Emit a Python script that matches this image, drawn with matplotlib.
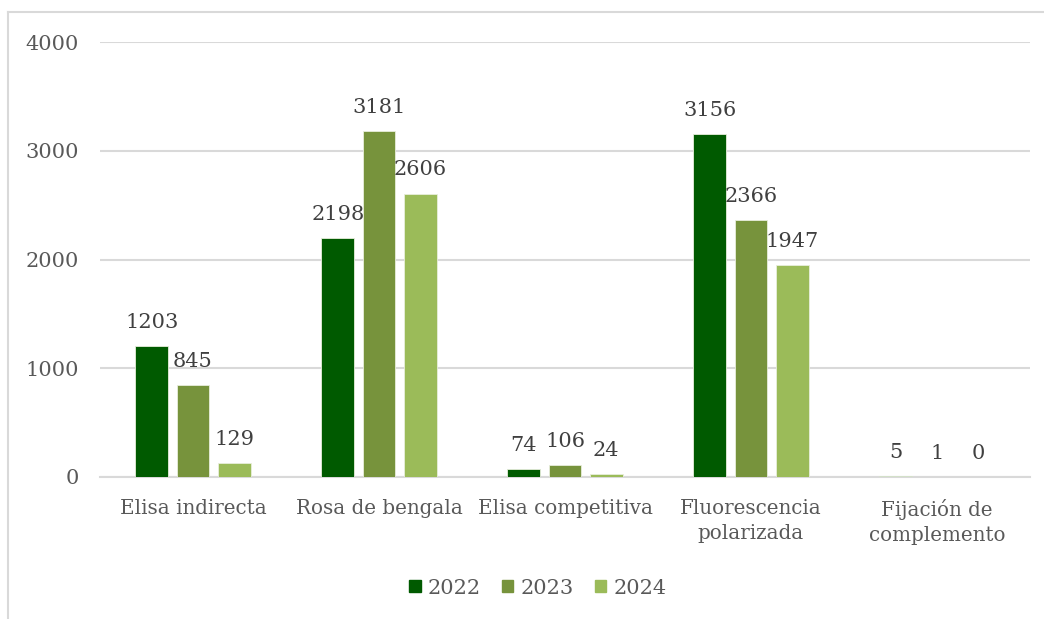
import numpy as np
import matplotlib.pyplot as plt
from matplotlib.patches import Rectangle
from matplotlib.lines import Line2D

categories = ["Elisa indirecta", "Rosa de bengala", "Elisa competitiva",
              "Fluorescencia\npolarizada", "Fijación de\ncomplemento"]
years = ["2022", "2023", "2024"]
v2022 = [1203, 2198, 74, 3156, 5]
v2023 = [845, 3181, 106, 2366, 1]
v2024 = [129, 2606, 24, 1947, 0]
colors = ["#005A00", "#77933C", "#9BBB59"]

plt.rcParams['font.family'] = ['DejaVu Serif']

fig = plt.figure(figsize=(10.44, 6.19), dpi=100)
W, H = 1044, 619

# outer chart frame (light gray, runs off right/bottom)
fig.add_artist(Line2D([8 / W, 8 / W], [1 - 12 / H, 1 - 618 / H],
                      color="#D9D9D9", lw=1.5, transform=fig.transFigure))
fig.add_artist(Line2D([8 / W, 1], [1 - 12 / H, 1 - 12 / H],
                      color="#D9D9D9", lw=1.5, transform=fig.transFigure))

ax = fig.add_axes([100 / W, 1 - 477 / H, 930 / W, 435 / H])

x = np.arange(len(categories))
step = 0.222
width = 0.175
series = [v2022, v2023, v2024]
for i, (vals, c, yr) in enumerate(zip(series, colors, years)):
    pos = x + (i - 1) * step
    bars = ax.bar(pos, vals, width, color=c, edgecolor="#E8EEDC", linewidth=0.6,
                  label=yr, zorder=3)
    for b, v in zip(bars, vals):
        ax.annotate(str(v), (b.get_x() + b.get_width() / 2, v),
                    xytext=(0, 17), textcoords="offset points",
                    ha="center", va="center", fontsize=15, color="#404040")

ax.set_xlim(-0.5, len(categories) - 0.5)
ax.set_ylim(0, 4000)
ax.set_yticks([0, 1000, 2000, 3000, 4000])
ax.yaxis.grid(True, color="#D9D9D9", lw=1.5, zorder=0)
ax.set_axisbelow(True)
for s in ["top", "right", "left"]:
    ax.spines[s].set_visible(False)
ax.spines["bottom"].set_color("#D9D9D9")
ax.spines["bottom"].set_linewidth(1.5)
ax.set_xticks(x)
ax.set_xticklabels(categories, linespacing=1.4)
ax.tick_params(axis="both", length=0, labelsize=15, colors="#595959")
ax.tick_params(axis="x", labelsize=14.3, pad=16)
ax.tick_params(axis="y", pad=15)

handles = [Rectangle((0, 0), 1, 1, color=c) for c in colors]
fig.legend(handles, years, loc="center", bbox_to_anchor=(538 / W, 1 - 588 / H),
           ncol=3, frameon=False, fontsize=15, handlelength=0.55, handleheight=0.55,
           handletextpad=0.35, columnspacing=1.0, labelcolor="#595959")

fig.savefig("out.png", dpi=100, facecolor="white")
